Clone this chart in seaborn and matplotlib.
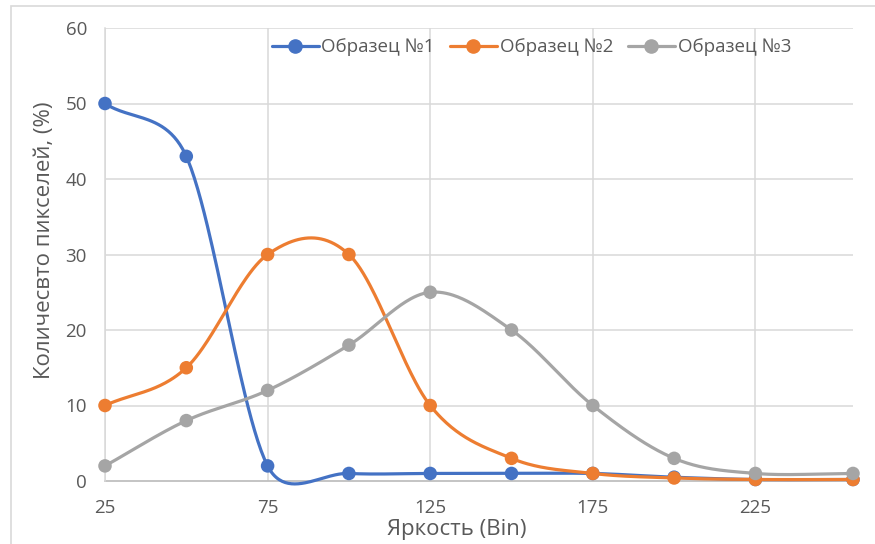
import numpy as np
import pandas as pd
import matplotlib
matplotlib.use("Agg")
import matplotlib.pyplot as plt
from matplotlib.lines import Line2D
from matplotlib.patches import Rectangle
import seaborn as sns

# ---- data ----
brightness = [25, 50, 75, 100, 125, 150, 175, 200, 225, 255]
sample1 = [50, 43, 2, 1, 1, 1, 1, 0.5, 0.2, 0.2]
sample2 = [10, 15, 30, 30, 10, 3, 1, 0.4, 0.2, 0.2]
sample3 = [2, 8, 12, 18, 25, 20, 10, 3, 1, 1]
series_names = ["Образец №1", "Образец №2", "Образец №3"]
x_ticks = [25, 75, 125, 175, 225]
y_ticks = [0, 10, 20, 30, 40, 50, 60]

colors = ["#4472C4", "#ED7D31", "#A5A5A5"]


def smooth(ax, xs, ys, n=50):
    """Excel-like smoothed line: cubic Bezier segments in screen space,
    tension 1/6, control offsets limited to half the segment length."""
    P = ax.transData.transform(np.column_stack([xs, ys]).astype(float))
    m = len(P)
    out = []
    for i in range(m - 1):
        p1 = P[i]
        p2 = P[i + 1]
        p0 = P[i - 1] if i > 0 else 2 * p1 - p2
        p3 = P[i + 2] if i + 2 < m else 2 * p2 - p1
        d12 = np.linalg.norm(p2 - p1)
        d02 = np.linalg.norm(p2 - p0)
        d13 = np.linalg.norm(p3 - p1)
        f1 = 1 / 6 if d02 / 6 < d12 / 2 else d12 / d02 / 2
        f2 = 1 / 6 if d13 / 6 < d12 / 2 else d12 / d13 / 2
        c1 = p1 + (p2 - p0) * f1
        c2 = p2 - (p3 - p1) * f2
        t = np.linspace(0, 1, n, endpoint=(i == m - 2))[:, None]
        b = ((1 - t) ** 3) * p1 + 3 * ((1 - t) ** 2) * t * c1 + 3 * (1 - t) * t ** 2 * c2 + t ** 3 * p2
        out.append(b)
    pts = np.vstack(out)
    return ax.transData.inverted().transform(pts)


sns.set_theme(style="white")
plt.rcParams["font.family"] = ["Open Sans", "DejaVu Sans"]

fig = plt.figure(figsize=(8.75, 5.44), dpi=100)
ax = fig.add_axes([105 / 875, 1 - 481 / 544, (853 - 105) / 875, (481 - 28) / 544])
ax.set_xlim(25, 255)
ax.set_ylim(0, 60)

# outer chart border (cropped on right and bottom)
fig.patches.append(Rectangle((11 / 875, -10 / 544), 880 / 875, 548 / 544, transform=fig.transFigure,
                             fill=False, edgecolor="#D9D9D9", linewidth=1.2, zorder=0))

grid_c = "#D9D9D9"
for yv in y_ticks[1:]:
    ax.axhline(yv, color=grid_c, lw=1.1, zorder=0)
for xv in x_ticks:
    ax.axvline(xv, color=grid_c, lw=1.1, zorder=0)

all_series = [sample1, sample2, sample3]
for k, (vals, name, col) in enumerate(zip(all_series, series_names, colors)):
    curve = smooth(ax, brightness, vals)
    dfc = pd.DataFrame({"x": curve[:, 0], "y": curve[:, 1]})
    sns.lineplot(data=dfc, x="x", y="y", sort=False, estimator=None, color=col,
                 lw=2.3, ax=ax, zorder=3 + k, clip_on=False)
    dfp = pd.DataFrame({"x": brightness, "y": vals})
    sns.scatterplot(data=dfp, x="x", y="y", color=col, s=95, edgecolor="none",
                    ax=ax, zorder=3.5 + k, clip_on=False)

ax.set_xlim(25, 255)
ax.set_ylim(0, 60)
ax.set_xticks(x_ticks)
ax.set_yticks(y_ticks)
ax.tick_params(axis="both", length=0, labelsize=13.5, colors="#595959")
ax.tick_params(axis="x", pad=13)
ax.tick_params(axis="y", pad=13)
for s in ["top", "right"]:
    ax.spines[s].set_visible(False)
ax.spines["left"].set_color(grid_c)
ax.spines["left"].set_linewidth(1.1)
ax.spines["bottom"].set_color("#BFBFBF")
ax.spines["bottom"].set_linewidth(1.3)
ax.spines["bottom"].set_zorder(2)

ax.set_xlabel("Яркость (Bin)", fontsize=16, color="#595959")
ax.set_ylabel("Количесвто пикселей, (%)", fontsize=16, color="#595959")
ax.xaxis.set_label_coords((457 - 105) / 748, (481 - 530) / 453)
ax.xaxis.label.set_va("center")
ax.yaxis.set_label_coords((45 - 105) / 748, (481 - 240) / 453)
ax.yaxis.label.set_va("center")

handles = [Line2D([0], [0], color=c, lw=2.3, marker="o", markersize=9.5) for c in colors]
leg = ax.legend(handles, series_names, loc="upper center", bbox_to_anchor=(0.57, 1.015),
                ncol=3, frameon=False, fontsize=13.5, handlelength=2.5, handletextpad=0.15,
                columnspacing=0.8, labelcolor="#595959")
leg.set_zorder(10)

fig.savefig("out.png", dpi=100)
